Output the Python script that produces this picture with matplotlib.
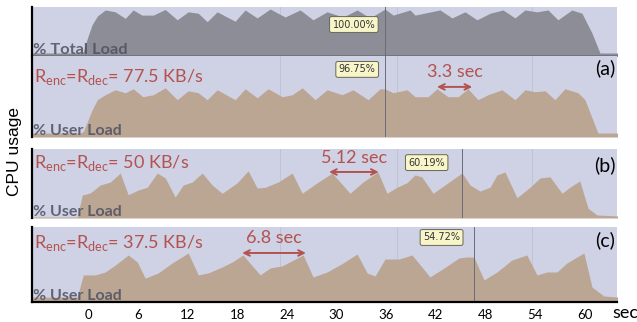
import numpy as np
import matplotlib.pyplot as plt

plt.rcParams['mathtext.fontset'] = 'custom'
plt.rcParams['mathtext.rm'] = 'Lato'

### données (temps en s, charge en %)

t_total = [-6.8, -1.0, -0.6, -0.1, 0.45, 1.1, 2.05, 3.26, 4.47, 5.43, 6.49, 7.85, 9.3, 10.75,
           12.08, 13.29, 14.37, 15.58, 17.75, 18.96, 20.41, 21.98, 23.79, 25.6, 27.17, 28.86,
           30.8, 32.49, 34.06, 35.87, 36.84, 38.89, 39.49, 42.51, 43.96, 45.53, 46.98, 48.55,
           50.12, 51.57, 52.78, 54.23, 55.56, 56.76, 58.45, 59.66, 60.87, 61.84, 64.0]
v_total = [6.4, 6.4, 9, 38, 66, 85, 98, 94, 80, 98, 87, 87, 99, 77,
           94, 91, 73, 94, 74, 98, 81, 100, 83, 98, 77, 94,
           83, 98, 81, 100, 87, 98, 87, 98, 81, 94, 77, 91,
           98, 81, 98, 94, 98, 77, 98, 91, 49, 6.4, 6.4]

t_a = [-6.8, -1.0, -0.6, 0.45, 1.1, 2.05, 3.26, 4.47, 5.43, 6.6, 7.85, 9.3, 10.75, 12.08,
       13.29, 14.37, 15.58, 17.75, 18.96, 20.41, 21.74, 23.43, 24.64, 25.85, 27.42, 28.86,
       30.68, 32.0, 33.82, 35.27, 35.87, 36.84, 38.53, 39.49, 41.06, 42.15, 43.48, 44.69,
       45.89, 47.1, 48.31, 50.0, 51.57, 52.78, 53.99, 55.19, 56.4, 57.61, 59.18, 60.02,
       61.59, 64.0]
v_a = [8, 8, 10.7, 54, 75, 85, 95, 89, 97, 81, 85, 99, 75, 93,
       89, 75, 95, 75, 97, 79, 97, 81, 85, 99, 75, 95,
       85, 95, 75, 97, 96.75, 89, 95, 81, 81, 97, 81, 81,
       97, 75, 85, 95, 75, 95, 91, 93, 75, 97, 89, 75,
       8, 8]

t_b = [-6.8, -1.33, -0.72, 0.24, 1.45, 2.66, 3.86, 4.83, 6.04, 7.13, 8.33, 9.3, 10.5, 11.47,
       12.56, 13.77, 14.98, 16.18, 18.0, 19.32, 20.41, 21.38, 22.95, 24.64, 25.85, 27.66,
       29.47, 31.64, 33.2, 35.0, 36.1, 37.3, 38.5, 39.49, 40.3, 41.67, 43.48, 45.17, 46.14,
       47.34, 48.55, 49.4, 50.36, 51.81, 53.38, 54.6, 55.8, 57.25, 58.2, 59.4, 60.4, 61.47,
       64.0]
v_b = [1.3, 1.3, 30.7, 33.4, 44, 48, 60, 31, 37.4, 41, 60, 53.5, 28, 44,
       48, 60, 44, 33, 47, 63, 40, 41, 48, 60, 33, 47,
       60, 33, 48, 61.5, 33, 41, 47, 57.5, 55, 33, 47, 60.19, 44,
       36, 41, 57.5, 61.5, 27, 41, 53.5, 55, 33, 41, 49.5, 13, 4,
       2.7]

t_c = [-6.8, -1.33, -0.6, 0.85, 2.05, 3.26, 4.83, 5.92, 6.88, 8.45, 10.14, 12.08, 13.29,
       14.49, 16.18, 17.4, 18.7, 20.77, 21.98, 23.43, 25.97, 27.17, 28.86, 30.8, 32.49,
       33.7, 34.66, 35.87, 37.56, 39.13, 41.3, 43.0, 44.8, 45.77, 46.6, 47.83, 49.4, 51.2,
       53.0, 54.23, 55.43, 56.64, 57.85, 59.9, 60.87, 62.3, 64.0]
v_c = [6, 6, 33, 33, 36.6, 45, 57.3, 48.8, 29, 35.4, 47.6, 59.8, 33,
       35.4, 42.7, 48.8, 57.3, 33, 41.5, 44, 57.3, 30.5, 36.6, 47.6, 58.5,
       35.4, 31.7, 52.4, 52.4, 57.3, 30.5, 41.5, 53.7, 54.9, 54.72, 26.8, 36.6, 51.2,
       57.3, 33, 36.6, 36.6, 47.6, 59.8, 18.3, 7.3, 6]

ticks = [0, 6, 12, 18, 24, 30, 36, 42, 48, 54, 60]
debits = ['77.5', '50', '37.5']
lettres = ['(a)', '(b)', '(c)']
curseurs = [35.87, 45.17, 46.6]
etiquettes = ['96.75%', '60.19%', '54.72%']
periodes = ['3.3 sec', '5.12 sec', '6.8 sec']
fleches = [(42.15, 46.4), (29.1, 35.1), (18.6, 26.3)]

### style

fond = '#cfd1e4'
gris = '#8c8d96'
brun = '#bba593'
rouge = '#b3524f'
texte_gris = '#4d5060'
jaune = '#f8f6c8'
trait = '#6a6b76'


def bulle(ax, x, y, txt, bas=True):
    # étiquette jaune avec sa petite pointe à droite
    ax.annotate(txt, xy=(x, y), ha='center', va='center', fontsize=7, color='#333333',
                family='DejaVu Sans',
                bbox=dict(boxstyle='round,pad=0.3,rounding_size=0.2', fc=jaune, ec='#666655', lw=0.7))


fig = plt.figure(figsize=(6.37, 3.22), dpi=100)

x0, w = 32/637, 585/637
ax_tot = fig.add_axes([x0, 1-56/322, w, 49/322])
ax_a = fig.add_axes([x0, 1-137/322, w, 81/322])
ax_b = fig.add_axes([x0, 1-218/322, w, 69/322])
ax_c = fig.add_axes([x0, 1-302/322, w, 75/322])

tous = [ax_tot, ax_a, ax_b, ax_c]
ymax = [104.3, 163, 92.2, 91.5]
for ax, ym in zip(tous, ymax):
    ax.set_facecolor(fond)
    ax.set_xlim(-6.8, 63.9)
    ax.set_ylim(0, ym)
    ax.set_yticks([])
    ax.set_xticks([])
    for s in ['top', 'right', 'bottom']:
        ax.spines[s].set_visible(False)
    ax.spines['left'].set_color('black')
    ax.spines['left'].set_linewidth(1.6)
    for g in [23.2, 37.3, 53.6]:
        ax.axvline(g, color='#bcbecf', lw=0.5, zorder=0)

ax_tot.fill_between(t_total, v_total, color=gris, lw=0)
ax_tot.spines['bottom'].set_visible(True)
ax_tot.spines['bottom'].set_color('#6e6f78')
ax_tot.spines['bottom'].set_linewidth(1.2)
ax_tot.text(0.002, -0.02, '% Total Load', transform=ax_tot.transAxes, ha='left', va='bottom',
            fontsize=11.8, fontweight='bold', family='Lato', color=texte_gris, alpha=0.85)
ax_tot.axvline(curseurs[0], color=trait, lw=0.7)
bulle(ax_tot, 32.1, 67, '100.00%')

series = [(t_a, v_a), (t_b, v_b), (t_c, v_c)]
for i, ax in enumerate([ax_a, ax_b, ax_c]):
    t, v = series[i]
    ax.fill_between(t, v, color=brun, lw=0)
    ax.axvline(curseurs[i], color=trait, lw=0.7)
    ax.text(0.002, -0.01, '% User Load', transform=ax.transAxes, ha='left', va='bottom',
            fontsize=11.5, fontweight='bold', family='Lato', color=texte_gris, alpha=0.85)
    ax.text(0.997, [0.85, 0.77, 0.83][i], lettres[i], transform=ax.transAxes, ha='right',
            va='center', fontsize=14, family='Lato', color='black')
    ax.text(0.004, [0.74, 0.80, 0.79][i],
            r'R$_{\rm enc}$=R$_{\rm dec}$= ' + debits[i] + ' KB/s',
            transform=ax.transAxes, ha='left', va='center', fontsize=13, family='Lato', color=rouge)
    # étiquette de valeur au curseur
    pos = [(32.5, 136), (40.9, 74), (42.7, 78.7)][i]
    bulle(ax, pos[0], pos[1], etiquettes[i])
    # période entre deux pics
    y_f = [100.8, 61.5, 59.8][i]
    y_t = [131, 80, 78][i]
    a, b = fleches[i]
    ax.annotate('', xy=(a, y_f), xytext=(b, y_f),
                arrowprops=dict(arrowstyle='<->', color=rouge, lw=1.4, shrinkA=0, shrinkB=0))
    ax.text((a+b)/2, y_t, periodes[i], ha='center', va='center', fontsize=13,
            family='Lato', color=rouge)

ax_c.spines['bottom'].set_visible(True)
ax_c.spines['bottom'].set_color('black')
ax_c.spines['bottom'].set_linewidth(1.6)
ax_c.set_xticks(ticks)
ax_c.set_xticklabels([str(k) for k in ticks], family='Lato', fontsize=9.5)
ax_c.tick_params(axis='x', length=0, pad=5)

fig.text(625/637, 1-313/322, 'sec', ha='center', va='center', fontsize=13, family='Lato')
fig.text(15/637, 0.53, 'CPU usage', rotation=90, ha='center', va='center', fontsize=12.5,
         family='Liberation Sans')

fig.savefig('out.png', dpi=100)
